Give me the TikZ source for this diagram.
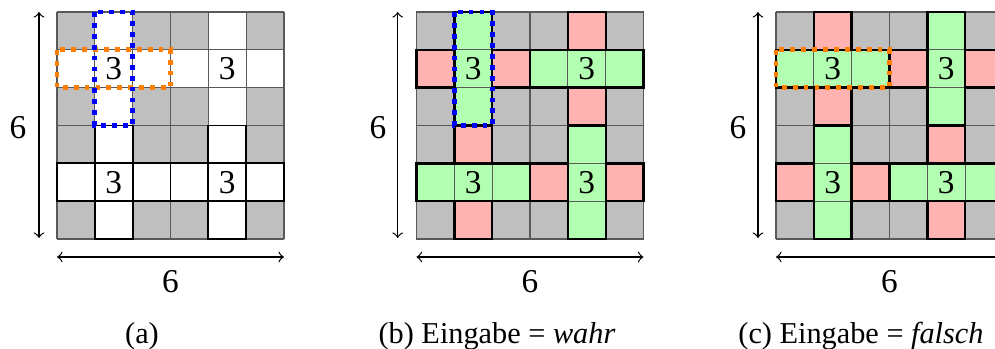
\documentclass[tikz,border=0pt]{standalone}
\usepackage{fontspec}
\setmainfont{Liberation Serif}
\definecolor{cellgraycol}{gray}{0.75}
\colorlet{cellredcol}{red!30}
\colorlet{cellgreencol}{green!30}
\begin{document}
\begin{tikzpicture}[x=0.33pt,y=-0.33pt,font=\fontsize{10}{12}\selectfont,
  cellgray/.style={fill=cellgraycol},
  cellred/.style={fill=cellredcol},
  cellgreen/.style={fill=cellgreencol},
  gridline/.style={draw=black!65,line width=0.4pt},
  strip/.style={draw=black,line width=0.8pt},
  stripa/.style={draw=black,line width=0.6pt},
  dotblue/.style={draw=blue,ultra thick,dotted},
  dotorange/.style={draw=orange,ultra thick,dotted},
  dimarrow/.style={<->,line width=0.4pt},
  lbl/.style={inner sep=0pt},
  num/.style={inner sep=0pt,font=\fontsize{11}{13}\selectfont}]
\useasboundingbox (0,0) rectangle (995,349);
\clip (0,0) rectangle (995,349);

% ---------- (a) ----------
\begin{scope}[shift={(57,12)},x=12.49pt,y=-12.49pt]
  \fill[cellgray] (0,0) rectangle (6,6);
  \fill[white] (1,0) rectangle (2,6) (4,0) rectangle (5,6) (0,1) rectangle (6,2) (0,4) rectangle (6,5);
  \foreach \i in {0,...,6} \draw[gridline] (\i,0) -- (\i,6) (0,\i) -- (6,\i);
  \draw[stripa] (1,3) rectangle (2,6) (4,3) rectangle (5,6) (0,4) rectangle (3,5) (3,4) rectangle (6,5);
  \node[num] (a11) at (1.5,1.5) {3};
  \node[num] (a12) at (4.5,1.5) {3};
  \node[num] (a21) at (1.5,4.5) {3};
  \node[num] (a22) at (4.5,4.5) {3};
  \draw[dotorange] (0,1) rectangle (3,2);
  \draw[dotblue] (1,0) rectangle (2,3);
\end{scope}
\coordinate (av1) at (39,12);
\coordinate (av2) at (39,238);
\draw[dimarrow] (av1) -- (av2);
\node[num] (alv) at (18,127.5) {6};
\coordinate (ah1) at (57,257);
\coordinate (ah2) at (284,257);
\draw[dimarrow] (ah1) -- (ah2);
\node[num] (alh) at (170.5,282) {6};
\node[lbl] (capa) at (142,336) {(a)};

% ---------- (b) ----------
\begin{scope}[shift={(416.5,12)},x=12.49pt,y=-12.49pt]
  \fill[cellgray] (0,0) rectangle (6,6);
  \fill[cellgreen] (1,0) rectangle (2,3) (3,1) rectangle (6,2) (0,4) rectangle (3,5) (4,3) rectangle (5,6);
  \foreach \r/\c in {2/1,2/3,1/5,3/5,4/2,6/2,5/4,5/6}
    \fill[cellred] (\c-1,\r-1) rectangle ++(1,1);
  \foreach \i in {0,...,6} \draw[gridline] (\i,0) -- (\i,6) (0,\i) -- (6,\i);
  \draw[strip] (1,0) rectangle (2,3) (3,1) rectangle (6,2) (0,4) rectangle (3,5) (4,3) rectangle (5,6);
  \foreach \r/\c in {2/1,2/3,1/5,3/5,4/2,6/2,5/4,5/6}
    \draw[strip] (\c-1,\r-1) rectangle ++(1,1);
  \node[num] (b11) at (1.5,1.5) {3};
  \node[num] (b12) at (4.5,1.5) {3};
  \node[num] (b21) at (1.5,4.5) {3};
  \node[num] (b22) at (4.5,4.5) {3};
  \draw[dotblue] (1,0) rectangle (2,3);
\end{scope}
\coordinate (bv1) at (397.7,12);
\coordinate (bv2) at (397.7,238);
\draw[dimarrow] (bv1) -- (bv2);
\node[num] (blv) at (378,127.5) {6};
\coordinate (bh1) at (416.5,257);
\coordinate (bh2) at (643.5,257);
\draw[dimarrow] (bh1) -- (bh2);
\node[num] (blh) at (530,282) {6};
\node[lbl] (capb) at (497,336) {(b) Eingabe = \textit{wahr}};

% ---------- (c) ----------
\begin{scope}[shift={(776,12)},x=12.49pt,y=-12.49pt]
  \fill[cellgray] (0,0) rectangle (6,6);
  \fill[cellgreen] (0,1) rectangle (3,2) (4,0) rectangle (5,3) (1,3) rectangle (2,6) (3,4) rectangle (6,5);
  \foreach \r/\c in {1/2,3/2,2/4,2/6,4/5,6/5,5/1,5/3}
    \fill[cellred] (\c-1,\r-1) rectangle ++(1,1);
  \foreach \i in {0,...,6} \draw[gridline] (\i,0) -- (\i,6) (0,\i) -- (6,\i);
  \draw[strip] (0,1) rectangle (3,2) (4,0) rectangle (5,3) (1,3) rectangle (2,6) (3,4) rectangle (6,5);
  \foreach \r/\c in {1/2,3/2,2/4,2/6,4/5,6/5,5/1,5/3}
    \draw[strip] (\c-1,\r-1) rectangle ++(1,1);
  \node[num] (c11) at (1.5,1.5) {3};
  \node[num] (c12) at (4.5,1.5) {3};
  \node[num] (c21) at (1.5,4.5) {3};
  \node[num] (c22) at (4.5,4.5) {3};
  \draw[dotorange] (0,1) rectangle (3,2);
\end{scope}
\coordinate (cv1) at (758,12);
\coordinate (cv2) at (758,238);
\draw[dimarrow] (cv1) -- (cv2);
\node[num] (clv) at (738,127.5) {6};
\coordinate (ch1) at (776,257);
\coordinate (ch2) at (1003,257);
\draw[dimarrow] (ch1) -- (ch2);
\node[num] (clh) at (889.5,282) {6};
\node[lbl] (capc) at (861,336) {(c) Eingabe = \textit{falsch}};
\end{tikzpicture}
\end{document}
